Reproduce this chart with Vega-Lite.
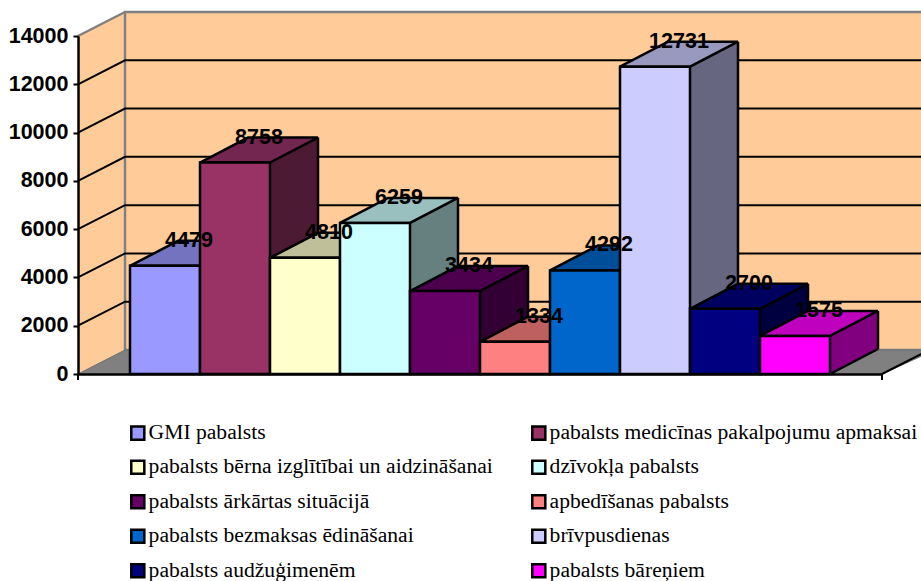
{
"$schema":"https://vega.github.io/schema/vega-lite/v6.json",
"width":804,"height":338,
"autosize":"none",
"padding":{"left":78,"top":36,"right":39,"bottom":207},
"background":"white",
"config":{"view":{"stroke":null}},
"datasets":{
"bars":[
{"name":"GMI pabalsts","value":4479},
{"name":"pabalsts medicīnas pakalpojumu apmaksai","value":8758},
{"name":"pabalsts bērna izglītībai un aidzināšanai","value":4810},
{"name":"dzīvokļa pabalsts","value":6259},
{"name":"pabalsts ārkārtas situācijā","value":3434},
{"name":"apbedīšanas pabalsts","value":1334},
{"name":"pabalsts bezmaksas ēdināšanai","value":4292},
{"name":"brīvpusdienas","value":12731},
{"name":"pabalsts audžuģimenēm","value":2700},
{"name":"pabalsts bāreņiem","value":1575}],
"base":[{"name":"GMI pabalsts","value":0}],
"ticks":[{"name":"GMI pabalsts","value":2000},{"name":"GMI pabalsts","value":4000},{"name":"GMI pabalsts","value":6000},{"name":"GMI pabalsts","value":8000},{"name":"GMI pabalsts","value":10000},{"name":"GMI pabalsts","value":12000}]
},
"data":{"name":"bars"},
"encoding":{
"x":{"field":"name","type":"nominal","sort":null,
"scale":{"domain":["GMI pabalsts","pabalsts medicīnas pakalpojumu apmaksai","pabalsts bērna izglītībai un aidzināšanai","dzīvokļa pabalsts","pabalsts ārkārtas situācijā","apbedīšanas pabalsts","pabalsts bezmaksas ēdināšanai","brīvpusdienas","pabalsts audžuģimenēm","pabalsts bāreņiem"],"paddingInner":0,"paddingOuter":0.7429},
"axis":{"labels":false,"ticks":false,"title":null,"domainColor":"black","domainWidth":2.5,"zindex":1}},
"y":{"field":"value","type":"quantitative",
"scale":{"domain":[0,14000],"nice":false},
"axis":{"values":[0,2000,4000,6000,8000,10000,12000,14000],"format":"d","title":null,"grid":false,"domainColor":"black","domainWidth":2.5,"tickColor":"black","tickWidth":2,"tickSize":5,"labelColor":"black","labelFont":"Liberation Sans","labelFontSize":21.5,"labelFontWeight":"bold","labelPadding":5,"zindex":1}}
},
"resolve":{"scale":{"fill":"independent"}},
"layer":[
{"data":{"name":"base"},"mark":{"type":"point","shape":"M-87 0 L-40 -24 L-40 -362 L-87 -338 Z","size":4,"filled":true,"fill":"#FFCC99","strokeWidth":0,"opacity":1}},
{"data":{"name":"base"},"mark":{"type":"point","shape":"M-40 -362 L770 -362 L770 -24 L-40 -24 Z","size":4,"filled":true,"fill":"#FFCC99","stroke":"#808080","strokeWidth":2.5,"opacity":1}},
{"data":{"name":"base"},"mark":{"type":"point","shape":"M-87 -338 L-40 -362","size":4,"filled":false,"stroke":"#808080","strokeWidth":2.5,"opacity":1}},
{"data":{"name":"base"},"mark":{"type":"point","shape":"M-87 0 L-40 -24 L770 -24 L717 0 Z","size":4,"filled":true,"fill":"#808080","stroke":"#6e6e6e","strokeWidth":1,"opacity":1}},
{"data":{"name":"base"},"mark":{"type":"point","shape":"M-87 0 L-87 6 M717 0 L717 6 M717 0 L764 -24","size":4,"filled":false,"stroke":"black","strokeWidth":2,"opacity":1}},
{"data":{"name":"ticks"},"mark":{"type":"point","shape":"M-87 0 L-40 -24 L770 -24","size":4,"filled":false,"stroke":"black","strokeWidth":2,"opacity":1}},
{"mark":{"type":"bar","width":48,"xOffset":59,"y2Offset":-25,"strokeWidth":0},
"encoding":{"y2":{"datum":0},
"fill":{"field":"name","type":"nominal","legend":null,"scale":{"domain":["GMI pabalsts","pabalsts medicīnas pakalpojumu apmaksai","pabalsts bērna izglītībai un aidzināšanai","dzīvokļa pabalsts","pabalsts ārkārtas situācijā","apbedīšanas pabalsts","pabalsts bezmaksas ēdināšanai","brīvpusdienas","pabalsts audžuģimenēm","pabalsts bāreņiem"],"range":["#4D4D80","#4D1A33","#808066","#668080","#330033","#804040","#003366","#666680","#000040","#800080"]}}}},
{"mark":{"type":"point","shape":"M35 1 L83 1 L83 -25 Z","size":4,"filled":true,"strokeWidth":0,"opacity":1},
"encoding":{
"fill":{"field":"name","type":"nominal","legend":null,"scale":{"domain":["GMI pabalsts","pabalsts medicīnas pakalpojumu apmaksai","pabalsts bērna izglītībai un aidzināšanai","dzīvokļa pabalsts","pabalsts ārkārtas situācijā","apbedīšanas pabalsts","pabalsts bezmaksas ēdināšanai","brīvpusdienas","pabalsts audžuģimenēm","pabalsts bāreņiem"],"range":["#4D4D80","#4D1A33","#808066","#668080","#330033","#804040","#003366","#666680","#000040","#800080"]}}}},
{"mark":{"type":"point","shape":"M35 0 L83 -25 L83 -26 L35 -26 Z","size":4,"filled":true,"strokeWidth":0,"opacity":1},
"encoding":{"y":{"datum":0,"type":"quantitative"},
"fill":{"field":"name","type":"nominal","legend":null,"scale":{"domain":["GMI pabalsts","pabalsts medicīnas pakalpojumu apmaksai","pabalsts bērna izglītībai un aidzināšanai","dzīvokļa pabalsts","pabalsts ārkārtas situācijā","apbedīšanas pabalsts","pabalsts bezmaksas ēdināšanai","brīvpusdienas","pabalsts audžuģimenēm","pabalsts bāreņiem"],"range":["#4D4D80","#4D1A33","#808066","#668080","#330033","#804040","#003366","#666680","#000040","#800080"]}}}},
{"mark":{"type":"point","shape":"M35 0 L83 -25","size":4,"filled":false,"stroke":"black","strokeWidth":2.5,"opacity":1},
"encoding":{"y":{"datum":0,"type":"quantitative"}}},
{"mark":{"type":"rule","color":"black","strokeWidth":2.5,"xOffset":83,"yOffset":-25,"y2Offset":-25},
"encoding":{"y2":{"datum":0}}},
{"mark":{"type":"point","shape":"M-35 0 L35 0 L83 -25 L13 -25 Z","size":4,"filled":true,"stroke":"black","strokeWidth":2.5,"opacity":1},
"encoding":{
"fill":{"field":"name","type":"nominal","legend":null,"scale":{"domain":["GMI pabalsts","pabalsts medicīnas pakalpojumu apmaksai","pabalsts bērna izglītībai un aidzināšanai","dzīvokļa pabalsts","pabalsts ārkārtas situācijā","apbedīšanas pabalsts","pabalsts bezmaksas ēdināšanai","brīvpusdienas","pabalsts audžuģimenēm","pabalsts bāreņiem"],"range":["#7373BF","#732650","#BFBF99","#99BFBF","#4D004D","#BF6060","#004D99","#9999BF","#000060","#BF00BF"]}}}},
{"mark":{"type":"bar","stroke":"black","strokeWidth":2.5},
"encoding":{
"fill":{"field":"name","type":"nominal","sort":null,
"scale":{"domain":["GMI pabalsts","pabalsts medicīnas pakalpojumu apmaksai","pabalsts bērna izglītībai un aidzināšanai","dzīvokļa pabalsts","pabalsts ārkārtas situācijā","apbedīšanas pabalsts","pabalsts bezmaksas ēdināšanai","brīvpusdienas","pabalsts audžuģimenēm","pabalsts bāreņiem"],"range":["#9999FF","#993366","#FFFFCC","#CCFFFF","#660066","#FF8080","#0066CC","#CCCCFF","#000080","#FF00FF"]},
"legend":{"orient":"none","legendX":49,"legendY":386,"columns":2,"direction":"horizontal","title":null,"symbolType":"square","symbolSize":170,"symbolStrokeColor":"black","symbolStrokeWidth":2.5,"symbolOpacity":1,"labelFont":"Liberation Serif","labelFontSize":21.6,"labelColor":"black","labelLimit":500,"columnPadding":34,"rowPadding":10.5,"labelOffset":0}}}},
{"mark":{"type":"text","font":"Liberation Sans","fontSize":21.5,"fontWeight":"bold","color":"black","dx":24,"dy":-25,"baseline":"middle","align":"center"},
"encoding":{"text":{"field":"value","type":"quantitative","format":"d"}}}
]
}
